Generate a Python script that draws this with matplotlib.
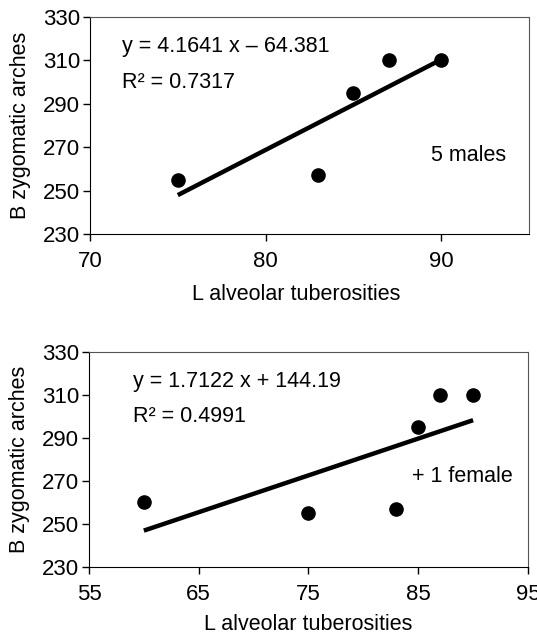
import matplotlib
matplotlib.use("Agg")
import matplotlib.pyplot as plt
import numpy as np

plt.rcParams['font.family'] = ['Liberation Sans', 'DejaVu Sans']
plt.rcParams['font.size'] = 15.5

# alveolar tuberosities (L) vs zygomatic arches (B)
males_x = [75, 83, 85, 87, 90]
males_y = [255, 257, 295, 310, 310]
female_x = [60]
female_y = [260]

# trend lines as printed on the panels
males_fit = (4.1641, -64.381, 0.7317)
all_fit = (1.7122, 144.19, 0.4991)

y_ticks = [230, 250, 270, 290, 310, 330]
top_xticks = [70, 80, 90]
bottom_xticks = [55, 65, 75, 85, 95]

FS = 15.5


def style_axes(ax, xlim, xticks, xlabel_x, xlabel_pad):
    ax.set_xlim(*xlim)
    ax.set_ylim(230, 330)
    ax.set_xticks(xticks)
    ax.set_yticks(y_ticks)
    ax.tick_params(direction='out', length=5, width=1, labelsize=16)
    ax.tick_params(axis='x', pad=7)
    ax.tick_params(axis='y', pad=2)
    for side in ['left', 'bottom']:
        ax.spines[side].set_color('black')
    for side in ['top', 'right']:
        ax.spines[side].set_color('#555555')
    ax.set_xlabel('L alveolar tuberosities', fontsize=FS, labelpad=xlabel_pad,
                  x=xlabel_x)
    ax.set_ylabel('B zygomatic arches', fontsize=FS, labelpad=9)


def fmt_eq(slope, icpt):
    sign = '+' if icpt >= 0 else '\u2013'
    return f'y = {slope:.4f} x {sign} {abs(icpt):g}'


fig = plt.figure(figsize=(5.37, 6.34), dpi=100)

# upper panel: males only
ax1 = fig.add_axes([0.1676, 0.6309, 0.8175, 0.3423])
ax1.scatter(males_x, males_y, s=90, color='black', zorder=3)
xs = np.array([min(males_x), max(males_x)])
ax1.plot(xs, males_fit[0] * xs + males_fit[1], color='black', lw=3.2,
         solid_capstyle='butt')
ax1.text(71.8, 316.2, fmt_eq(males_fit[0], males_fit[1]), va='center', fontsize=FS)
ax1.text(71.8, 299.6, f'R\u00b2 = {males_fit[2]}', va='center', fontsize=FS)
ax1.text(89.4, 266.4, '5 males', va='center', fontsize=FS)
style_axes(ax1, (70, 95), top_xticks, 0.47, 9)

# lower panel: males plus one female
all_x = female_x + males_x
all_y = female_y + males_y
ax2 = fig.add_axes([0.1657, 0.1057, 0.8175, 0.3391])
ax2.scatter(all_x, all_y, s=90, color='black', zorder=3)
xs = np.array([min(all_x), max(all_x)])
ax2.plot(xs, all_fit[0] * xs + all_fit[1], color='black', lw=3.2,
         solid_capstyle='butt')
ax2.text(59.0, 316.2, fmt_eq(all_fit[0], all_fit[1]), va='center', fontsize=FS)
ax2.text(59.0, 299.9, f'R\u00b2 = {all_fit[2]}', va='center', fontsize=FS)
ax2.text(84.4, 272.3, '+ 1 female', va='center', fontsize=FS)
style_axes(ax2, (55, 95), bottom_xticks, 0.5, 7)

fig.savefig('out.png', dpi=100)
plt.close(fig)
